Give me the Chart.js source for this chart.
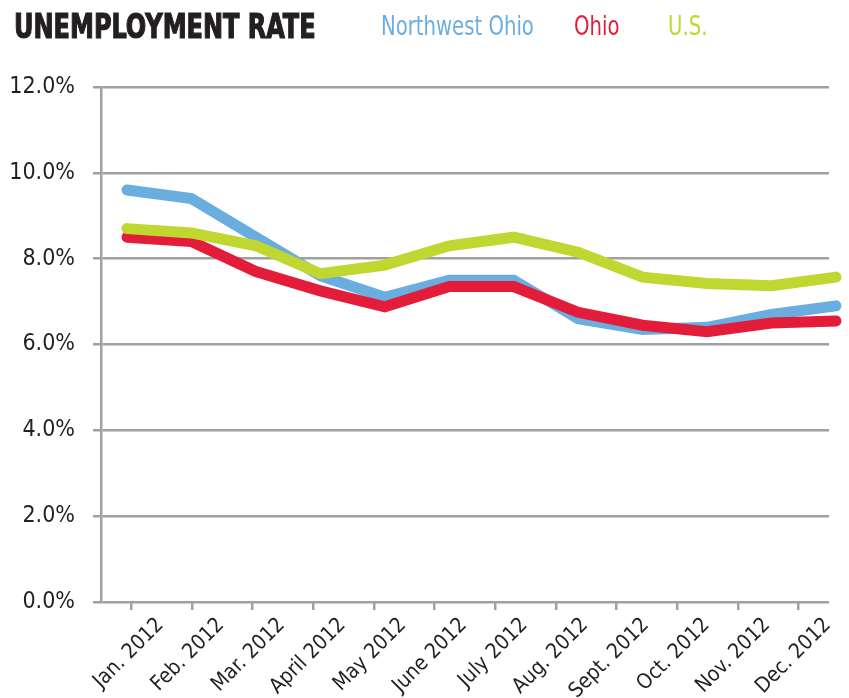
<!DOCTYPE html>
<html>
<head>
<meta charset="utf-8">
<script src="https://cdn.jsdelivr.net/npm/chart.js@4.4.0/dist/chart.umd.min.js"></script>
<style>
  html, body { margin: 0; padding: 0; background: #fff; }
  #wrap { position: relative; width: 849px; height: 698px; }
  #c { position: absolute; left: 0; top: 0; }
  .hdr { position: absolute; white-space: nowrap; font-family: "DejaVu Sans Condensed", "DejaVu Sans", sans-serif; transform-origin: 0 0; line-height: 1; }
  #title { left: 14px; top: 9px; font-size: 34px; font-weight: bold; color: #231f20; -webkit-text-stroke: 1.2px #231f20; transform: scaleX(0.785); }
  .lg { top: 12px; font-size: 27px; transform: scaleX(0.81); }
</style>
</head>
<body>
<div id="wrap">
  <canvas id="c" width="849" height="698"></canvas>
  <div id="title" class="hdr">UNEMPLOYMENT RATE</div>
  <div id="lg0" class="hdr lg" style="left:381px;color:#6aaee0">Northwest Ohio</div>
  <div id="lg1" class="hdr lg" style="left:574px;color:#e31c3a">Ohio</div>
  <div id="lg2" class="hdr lg" style="left:668px;color:#bfd730">U.S.</div>
</div>
<script>
const categories = ["Jan. 2012","Feb. 2012","Mar. 2012","April 2012","May 2012","June 2012","July 2012","Aug. 2012","Sept. 2012","Oct. 2012","Nov. 2012","Dec. 2012"];
const seriesNames = ["Northwest Ohio","Ohio","U.S."];
const northwestOhio = [9.6, 9.4, 8.5, 7.6, 7.1, 7.5, 7.5, 6.6, 6.35, 6.4, 6.7, 6.9];
const ohio          = [8.5, 8.4, 7.7, 7.25, 6.88, 7.35, 7.35, 6.75, 6.45, 6.3, 6.5, 6.55];
const us            = [8.7, 8.6, 8.3, 7.65, 7.85, 8.3, 8.5, 8.15, 7.57, 7.42, 7.37, 7.57];
const yTicks = [0, 2, 4, 6, 8, 10, 12];

const colors = ["#6aaee0", "#e31c3a", "#bfd730"];
const font = "'DejaVu Sans Condensed', 'DejaVu Sans', sans-serif";
const grid = "#a0a0a0";

function pts(arr) { return arr.map((v, i) => ({ x: i, y: v })); }

const ds = [northwestOhio, ohio, us].map((arr, k) => ({
  label: seriesNames[k],
  data: pts(arr),
  borderColor: colors[k],
  backgroundColor: colors[k],
  borderWidth: 11,
  pointRadius: 0,
  tension: 0,
  borderCapStyle: "round",
  borderJoinStyle: "miter",
  clip: false,
  order: 3 - k,
  xAxisID: "x",
  yAxisID: "y"
}));

new Chart(document.getElementById("c"), {
  type: "line",
  data: { labels: categories, datasets: ds },
  options: {
    responsive: false,
    animation: false,
    events: [],
    layout: { padding: { left: 0, right: 20, top: 87, bottom: 0 } },
    plugins: { legend: { display: false }, title: { display: false }, tooltip: { enabled: false } },
    scales: {
      x: {
        type: "linear",
        display: false,
        min: -0.403,
        max: 10.892
      },
      xl: {
        type: "category",
        position: "bottom",
        labels: categories,
        offset: true,
        grid: { display: true, drawOnChartArea: false, drawTicks: true, tickLength: 8, color: grid, lineWidth: 2.5 },
        border: { display: false },
        ticks: {
          autoSkip: false,
          maxRotation: 45,
          minRotation: 45,
          labelOffset: 29,
          padding: 3,
          color: "#231f20",
          font: { family: font, size: 21 }
        },
        afterFit: s => { s.height = 96; }
      },
      y: {
        min: 0,
        max: 12,
        afterBuildTicks: s => { s.ticks = yTicks.map(v => ({ value: v })); },
        grid: { color: grid, lineWidth: 2.5, tickLength: 8, drawTicks: true },
        border: { display: true, color: grid, width: 2.5 },
        ticks: {
          padding: 18,
          color: "#231f20",
          font: { family: font, size: 23 },
          callback: v => v.toFixed(1) + "%"
        },
        afterFit: s => { s.width = 101; }
      }
    }
  }
});
</script>
</body>
</html>
